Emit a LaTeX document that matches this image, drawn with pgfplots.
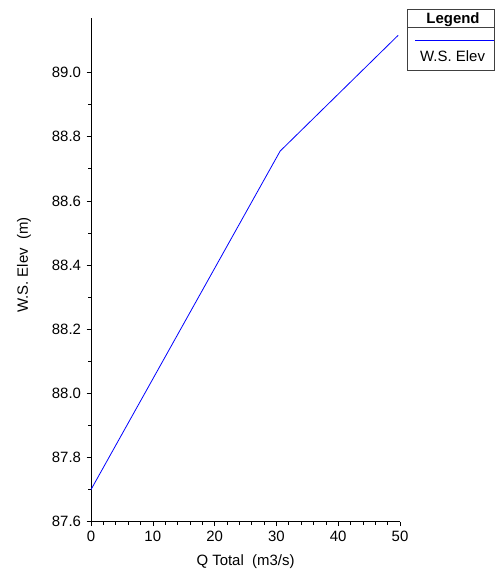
\documentclass[border=0pt]{standalone}
\usepackage{pgfplots}
\pgfplotsset{compat=1.18}
\usepackage{fontspec}
\setmainfont{Liberation Sans}
\begin{document}
\begin{tikzpicture}[x=1bp,y=1bp]
\path (-91,-57.3) rectangle (404,521.7);
\begin{axis}[
  at={(0,0)}, anchor=origin,
  scale only axis, width=309bp, height=503.7bp,
  xmin=0, xmax=50, ymin=87.6, ymax=89.17,
  axis x line*=bottom, axis y line*=left,
  axis line style={black, line width=0.6bp, -},
  xtick={0,10,...,50}, ytick={87.6,87.8,...,89.0},
  minor x tick num=4, minor y tick num=1,
  tick align=outside,
  major tick length=4.5bp, minor tick length=3bp,
  tick style={black, line width=0.6bp},
  /pgf/number format/assume math mode=true,
  yticklabel style={/pgf/number format/fixed, /pgf/number format/fixed zerofill, /pgf/number format/precision=1, font=\fontsize{15}{17}\selectfont, xshift=-2bp},
  xticklabel style={font=\fontsize{15}{17}\selectfont, yshift=-1bp},
  clip=false,
]
\addplot[blue, line width=0.8bp] coordinates {(0,87.70) (30.6,88.755) (49.7,89.116)};
\end{axis}
\node[font=\fontsize{15}{17}\selectfont, rotate=90, anchor=base] at (-63,256.7) {W.S. Elev\ \ (m)};
\node[font=\fontsize{15}{17}\selectfont, anchor=base] at (154.5,-43.3) {Q Total\ \ (m3/s)};
\draw[black!75, line width=0.6bp] (316,451) rectangle (403,512.4);
\draw[black!75, line width=0.6bp] (316,494.7) -- (403,494.7);
\draw[blue, line width=0.8bp] (324,481.7) -- (403,481.7);
\node[font=\bfseries\fontsize{15}{17}\selectfont, anchor=base] at (362,497.7) {Legend};
\node[font=\fontsize{15}{17}\selectfont, anchor=base west, inner sep=0pt] at (329,460.2) {W.S. Elev};
\end{tikzpicture}
\end{document}
